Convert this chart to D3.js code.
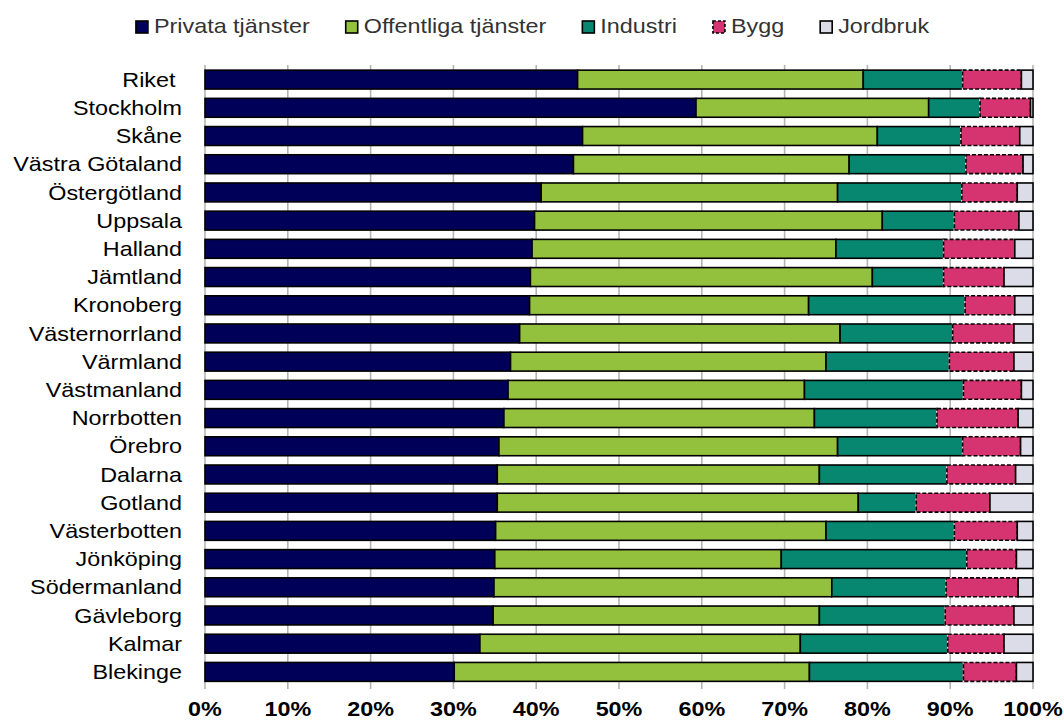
<!DOCTYPE html>
<html>
<head>
<meta charset="utf-8">
<script src="https://cdn.jsdelivr.net/npm/d3@7"></script>
<style>
  body { margin: 0; background: #fff; }
  text { font-family: "Liberation Sans", Arial, sans-serif; }
</style>
</head>
<body>
<div id="viz"></div>
<script>
// regions, top to bottom
const regions = ["Riket ", "Stockholm", "Skåne", "Västra Götaland", "Östergötland", "Uppsala",
  "Halland", "Jämtland", "Kronoberg", "Västernorrland", "Värmland", "Västmanland", "Norrbotten",
  "Örebro", "Dalarna", "Gotland", "Västerbotten", "Jönköping", "Södermanland", "Gävleborg",
  "Kalmar", "Blekinge"];

const sectors = ["Privata tjänster", "Offentliga tjänster", "Industri", "Bygg", "Jordbruk"];

// shares in percent, one array per sector (same order as regions)
const privata    = [45.0, 59.3, 45.6, 44.5, 40.6, 39.8, 39.5, 39.3, 39.2, 38.0, 36.9, 36.6, 36.1, 35.5, 35.3, 35.3, 35.1, 35.0, 34.9, 34.8, 33.2, 30.1];
const offentliga = [34.5, 28.1, 35.6, 33.3, 35.8, 42.0, 36.7, 41.3, 33.7, 38.7, 38.1, 35.8, 37.5, 40.9, 38.9, 43.6, 39.9, 34.6, 40.8, 39.4, 38.7, 42.9];
const industri   = [12.0,  6.2, 10.1, 14.1, 15.0,  8.7, 13.0,  8.6, 18.9, 13.6, 14.9, 19.2, 14.8, 15.1, 15.4,  7.0, 15.5, 22.4, 13.8, 15.2, 17.8, 18.6];
const bygg       = [ 7.1,  6.1,  7.1,  6.9,  6.7,  7.8,  8.6,  7.3,  6.0,  7.4,  7.8,  7.0,  9.8,  7.0,  8.3,  8.9,  7.6,  6.0,  8.7,  8.3,  6.8,  6.4];
const jordbruk   = [ 1.4,  0.3,  1.6,  1.2,  1.9,  1.7,  2.2,  3.5,  2.2,  2.3,  2.3,  1.4,  1.8,  1.5,  2.1,  5.2,  1.9,  2.0,  1.8,  2.3,  3.5,  2.0];

const xTicks = [0, 10, 20, 30, 40, 50, 60, 70, 80, 90, 100];

const colors = ["#000058", "#93c13e", "#078670", "#d53470", "#dcdce8"];

const width = 1064, height = 721;
const stretch = 1.14;   // text in the original is a bit wider than Arial
const fontSize = 20.5;

const rows = regions.map((r, i) => ({
  region: r,
  "Privata tjänster": privata[i],
  "Offentliga tjänster": offentliga[i],
  "Industri": industri[i],
  "Bygg": bygg[i],
  "Jordbruk": jordbruk[i]
}));

const svg = d3.select("#viz").append("svg")
  .attr("width", width)
  .attr("height", height);

const x = d3.scaleLinear().domain([0, 100]).range([205, 1033]);
const y = d3.scaleBand().domain(regions).range([65.5, 686]).paddingInner(0.33).paddingOuter(0.165);

// gridlines
svg.append("g").selectAll("line")
  .data(xTicks)
  .join("line")
  .attr("x1", d => x(d)).attr("x2", d => x(d))
  .attr("y1", 65).attr("y2", 689)
  .attr("stroke", "#b4b4b4")
  .attr("stroke-width", 1.6);

const series = d3.stack().keys(sectors)(rows);

const layers = svg.append("g").selectAll("g")
  .data(series)
  .join("g")
  .attr("fill", (d, i) => colors[i]);

layers.each(function(s) {
  const g = d3.select(this);
  const isBygg = s.key === "Bygg";
  if (isBygg) {
    // white under-stroke so the dash gaps show white
    g.selectAll("rect.under")
      .data(s)
      .join("rect")
      .attr("class", "under")
      .attr("x", d => x(d[0]))
      .attr("y", d => y(d.data.region))
      .attr("width", d => x(d[1]) - x(d[0]))
      .attr("height", y.bandwidth())
      .attr("stroke", "#fff")
      .attr("stroke-width", 1.6);
  }
  g.selectAll("rect.bar")
    .data(s)
    .join("rect")
    .attr("class", "bar")
    .attr("x", d => x(d[0]))
    .attr("y", d => y(d.data.region))
    .attr("width", d => x(d[1]) - x(d[0]))
    .attr("height", y.bandwidth())
    .attr("stroke", "#000")
    .attr("stroke-width", 1.6)
    .attr("stroke-dasharray", isBygg ? "4,2" : null);
});

// category labels
svg.append("g").selectAll("g")
  .data(regions)
  .join("g")
  .attr("transform", d => `translate(182,${y(d) + y.bandwidth() / 2}) scale(${stretch},1)`)
  .append("text")
  .attr("text-anchor", "end")
  .attr("dy", "0.35em")
  .attr("font-size", fontSize)
  .attr("fill", "#000")
  .style("white-space", "pre")
  .text(d => d);

// x tick labels
svg.append("g").selectAll("g")
  .data(xTicks)
  .join("g")
  .attr("transform", d => `translate(${x(d)},716) scale(${stretch},1)`)
  .append("text")
  .attr("text-anchor", "middle")
  .attr("font-size", fontSize)
  .attr("font-weight", "bold")
  .attr("fill", "#000")
  .text(d => d + "%");

// legend
const legend = svg.append("g");
const items = legend.selectAll("g")
  .data(sectors)
  .join("g");

items.append("rect")
  .attr("x", 1).attr("y", 21)
  .attr("width", 12).attr("height", 12)
  .attr("fill", (d, i) => colors[i])
  .attr("stroke", "#000")
  .attr("stroke-width", 1.6)
  .attr("stroke-dasharray", d => d === "Bygg" ? "3,2" : null);

items.append("g")
  .attr("transform", `translate(19,33) scale(${stretch},1)`)
  .append("text")
  .attr("font-size", fontSize)
  .attr("fill", "#333")
  .text(d => d);

let pos = 0;
const starts = [];
items.each(function() {
  const w = d3.select(this).select("text").node().getComputedTextLength() * stretch;
  starts.push(pos);
  pos += 19 + w + 35;
});
const total = pos - 35;
const left = width / 2 - total / 2;
items.attr("transform", (d, i) => `translate(${left + starts[i]},0)`);
</script>
</body>
</html>
